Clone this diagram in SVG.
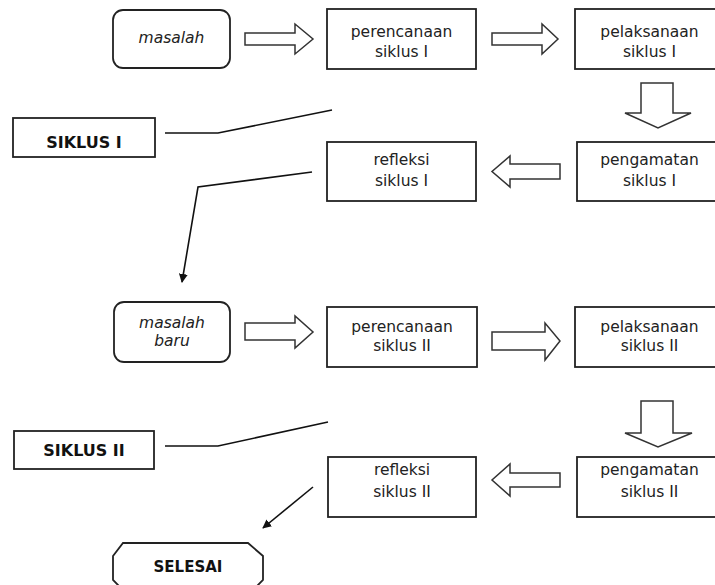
<svg xmlns="http://www.w3.org/2000/svg" width="715" height="585" viewBox="0 0 715 585">
<defs>
<style>
.box{fill:#fff;stroke:#222;stroke-width:1.8}
.harrow{fill:#fff;stroke:#333;stroke-width:1.5;stroke-linejoin:miter}
.con{fill:none;stroke:#111;stroke-width:1.6}
.t{font-family:"DejaVu Sans",sans-serif;font-size:15.5px;fill:#222;text-anchor:middle}
.ti{font-family:"DejaVu Sans",sans-serif;font-size:15.5px;font-style:italic;fill:#222;text-anchor:middle}
.tb{font-family:"DejaVu Sans",sans-serif;font-size:16px;font-weight:bold;fill:#111;text-anchor:middle}
</style>
<marker id="ah" viewBox="0 0 10 10" refX="9" refY="5" markerWidth="9" markerHeight="9" markerUnits="userSpaceOnUse" orient="auto">
<path d="M0,0 L10,5 L0,10 z" fill="#111"/>
</marker>
</defs>
<rect width="715" height="585" fill="#fff"/>

<g id="masalah">
<rect class="box" x="113" y="10" width="117" height="58" rx="10"/>
<text class="ti" x="171.5" y="43">masalah</text>
</g>
<g id="perencanaan1">
<rect class="box" x="327" y="9" width="149" height="60"/>
<text class="t" x="401.5" y="37">perencanaan</text>
<text class="t" x="401.5" y="57">siklus I</text>
</g>
<g id="pelaksanaan1">
<rect class="box" x="575" y="9" width="149" height="60"/>
<text class="t" x="649.5" y="37">pelaksanaan</text>
<text class="t" x="649.5" y="57">siklus I</text>
</g>
<g id="pengamatan1">
<rect class="box" x="577" y="142" width="149" height="59"/>
<text class="t" x="649.5" y="165">pengamatan</text>
<text class="t" x="649.5" y="186">siklus I</text>
</g>
<g id="refleksi1">
<rect class="box" x="327" y="142" width="149" height="59"/>
<text class="t" x="401.5" y="165">refleksi</text>
<text class="t" x="401.5" y="186">siklus I</text>
</g>
<g id="siklus1">
<rect class="box" x="13" y="118" width="142" height="39"/>
<text class="tb" x="84" y="148">SIKLUS I</text>
</g>
<g id="masalahbaru">
<rect class="box" x="114" y="302" width="116" height="60" rx="10"/>
<text class="ti" x="172" y="328">masalah</text>
<text class="ti" x="172" y="346">baru</text>
</g>
<g id="perencanaan2">
<rect class="box" x="327" y="307" width="150" height="60"/>
<text class="t" x="402" y="332">perencanaan</text>
<text class="t" x="402" y="351">siklus II</text>
</g>
<g id="pelaksanaan2">
<rect class="box" x="575" y="307" width="149" height="60"/>
<text class="t" x="649.5" y="332">pelaksanaan</text>
<text class="t" x="649.5" y="351">siklus II</text>
</g>
<g id="pengamatan2">
<rect class="box" x="577" y="457" width="149" height="60"/>
<text class="t" x="649.5" y="475">pengamatan</text>
<text class="t" x="649.5" y="497">siklus II</text>
</g>
<g id="refleksi2">
<rect class="box" x="328" y="457" width="148" height="60"/>
<text class="t" x="402" y="475">refleksi</text>
<text class="t" x="402" y="497">siklus II</text>
</g>
<g id="siklus2">
<rect class="box" x="14" y="431" width="140" height="38"/>
<text class="tb" x="84" y="456">SIKLUS II</text>
</g>
<g id="selesai">
<polygon class="box" points="113,556 123,543 248,543 263,556 263,580 250,593 126,593 113,580"/>
<text class="tb" x="188" y="572" style="font-size:15px">SELESAI</text>
</g>

<g id="connectors">
<polygon class="harrow" points="245,33 295,33 295,24 313,39 295,54 295,45 245,45"/>
<polygon class="harrow" points="492,33 542,33 542,24 558,39 542,54 542,45 492,45"/>
<polygon class="harrow" points="641,83 673,83 673,113 691,113 658,128 625,113 641,113"/>
<polygon class="harrow" points="560,164 510,164 510,156 492,171.5 510,187 510,179 560,179"/>
<polygon class="harrow" points="245,323 295,323 295,316 313,332 295,348 295,340 245,340"/>
<polygon class="harrow" points="492,332 545,332 545,323 560,341 545,360 545,350 492,350"/>
<polygon class="harrow" points="641,401 673,401 673,433 692,433 658,447 625,433 641,433"/>
<polygon class="harrow" points="560,473 510,473 510,464 492,480 510,496 510,487 560,487"/>
<polyline class="con" points="165,133 218,133 332,110"/>
<polyline class="con" points="312,172 198,187 182,282" marker-end="url(#ah)"/>
<polyline class="con" points="165,446 218,446 328,422"/>
<polyline class="con" points="313,487 263,528" marker-end="url(#ah)"/>
</g>
</svg>
